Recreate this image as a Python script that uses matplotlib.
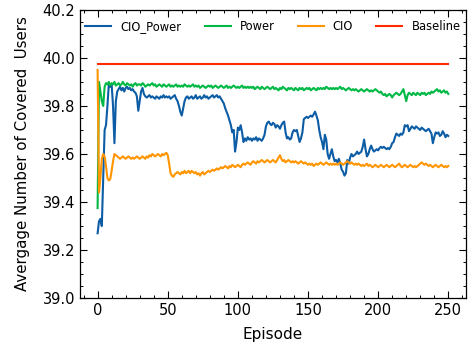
import matplotlib
matplotlib.use("Agg")
import matplotlib.pyplot as plt
from matplotlib.ticker import AutoMinorLocator

episodes = list(range(251))

cio_power = [
    39.27, 39.32, 39.33, 39.30, 39.50, 39.70, 39.72, 39.80, 39.89, 39.88,
    39.89, 39.80, 39.645, 39.82, 39.86, 39.87, 39.88, 39.865, 39.875, 39.86,
    39.875, 39.88, 39.87, 39.875, 39.865, 39.87, 39.86, 39.855, 39.84, 39.78,
    39.82, 39.86, 39.875, 39.85, 39.84, 39.835, 39.84, 39.845, 39.835, 39.84,
    39.835, 39.83, 39.84, 39.835, 39.83, 39.84, 39.835, 39.845, 39.835, 39.84,
    39.835, 39.84, 39.83, 39.835, 39.84, 39.845, 39.83, 39.82, 39.80, 39.775,
    39.76, 39.79, 39.82, 39.835, 39.84, 39.83, 39.835, 39.84, 39.83, 39.835,
    39.845, 39.83, 39.835, 39.84, 39.83, 39.835, 39.845, 39.835, 39.84, 39.83,
    39.835, 39.84, 39.845, 39.835, 39.84, 39.845, 39.835, 39.84, 39.83, 39.82,
    39.81, 39.79, 39.775, 39.76, 39.74, 39.72, 39.69, 39.70, 39.61, 39.65,
    39.71, 39.70, 39.72, 39.69, 39.65, 39.665, 39.655, 39.67, 39.66, 39.665,
    39.655, 39.665, 39.66, 39.67, 39.655, 39.665, 39.66, 39.655, 39.665, 39.68,
    39.715, 39.73, 39.735, 39.725, 39.72, 39.73, 39.725, 39.71, 39.72, 39.715,
    39.705, 39.72, 39.73, 39.735, 39.69, 39.665, 39.67, 39.66, 39.665, 39.69,
    39.70, 39.695, 39.70, 39.675, 39.65, 39.665, 39.69, 39.745, 39.75, 39.755,
    39.75, 39.755, 39.76, 39.755, 39.765, 39.776, 39.76, 39.74, 39.70, 39.67,
    39.65, 39.62, 39.68, 39.66, 39.60, 39.58, 39.60, 39.62, 39.59, 39.57,
    39.575, 39.565, 39.58, 39.56, 39.535, 39.526, 39.51, 39.52, 39.575, 39.56,
    39.585, 39.60, 39.59, 39.595, 39.60, 39.61, 39.60, 39.605, 39.61, 39.63,
    39.66, 39.62, 39.59, 39.60, 39.62, 39.635, 39.62, 39.61, 39.615, 39.62,
    39.615, 39.625, 39.63, 39.625, 39.63, 39.625, 39.62, 39.625, 39.62, 39.63,
    39.645, 39.65, 39.67, 39.685, 39.68, 39.675, 39.685, 39.68, 39.69, 39.72,
    39.715, 39.72, 39.695, 39.705, 39.715, 39.71, 39.705, 39.715, 39.71, 39.705,
    39.70, 39.71, 39.705, 39.70, 39.695, 39.70, 39.705, 39.695, 39.685, 39.645,
    39.67, 39.69, 39.685, 39.69, 39.675, 39.68, 39.695, 39.685, 39.67, 39.68,
    39.675,
]

power = [
    39.375, 39.90, 39.86, 39.82, 39.80, 39.88, 39.895, 39.89, 39.90, 39.885,
    39.895, 39.89, 39.90, 39.885, 39.89, 39.895, 39.885, 39.89, 39.90, 39.89,
    39.885, 39.895, 39.89, 39.885, 39.89, 39.88, 39.89, 39.895, 39.885, 39.89,
    39.89, 39.885, 39.895, 39.89, 39.88, 39.885, 39.89, 39.885, 39.89, 39.895,
    39.885, 39.89, 39.88, 39.885, 39.89, 39.885, 39.88, 39.89, 39.885, 39.88,
    39.885, 39.89, 39.88, 39.885, 39.88, 39.885, 39.89, 39.88, 39.885, 39.88,
    39.885, 39.88, 39.89, 39.885, 39.88, 39.885, 39.88, 39.885, 39.89, 39.88,
    39.885, 39.88, 39.885, 39.875, 39.88, 39.885, 39.88, 39.875, 39.88, 39.885,
    39.88, 39.885, 39.875, 39.88, 39.885, 39.88, 39.875, 39.88, 39.885, 39.88,
    39.875, 39.88, 39.885, 39.875, 39.88, 39.875, 39.88, 39.885, 39.88, 39.875,
    39.88, 39.875, 39.88, 39.885, 39.875, 39.88, 39.875, 39.88, 39.875, 39.88,
    39.875, 39.88, 39.87, 39.875, 39.88, 39.875, 39.87, 39.88, 39.875, 39.87,
    39.875, 39.88, 39.875, 39.87, 39.875, 39.88, 39.87, 39.875, 39.87, 39.865,
    39.875, 39.87, 39.88, 39.875, 39.87, 39.865, 39.875, 39.87, 39.875, 39.87,
    39.865, 39.875, 39.87, 39.865, 39.875, 39.87, 39.875, 39.865, 39.87, 39.875,
    39.87, 39.875, 39.865, 39.87, 39.875, 39.87, 39.865, 39.875, 39.87, 39.875,
    39.87, 39.875, 39.87, 39.88, 39.875, 39.87, 39.875, 39.87, 39.875, 39.87,
    39.875, 39.87, 39.875, 39.88, 39.87, 39.875, 39.87, 39.865, 39.87, 39.875,
    39.87, 39.865, 39.87, 39.865, 39.87, 39.865, 39.86, 39.865, 39.87, 39.865,
    39.86, 39.865, 39.87, 39.865, 39.86, 39.865, 39.86, 39.865, 39.87, 39.865,
    39.86, 39.855, 39.86, 39.85, 39.845, 39.85, 39.84, 39.845, 39.85, 39.845,
    39.835, 39.845, 39.85, 39.855, 39.85, 39.845, 39.85, 39.86, 39.87, 39.845,
    39.82, 39.845, 39.855, 39.85, 39.845, 39.855, 39.85, 39.845, 39.855, 39.85,
    39.845, 39.855, 39.85, 39.855, 39.845, 39.85, 39.855, 39.85, 39.86, 39.855,
    39.86, 39.865, 39.87, 39.86, 39.865, 39.855, 39.86, 39.865, 39.855, 39.86,
    39.85,
]

cio = [
    39.95, 39.44, 39.50, 39.58, 39.60, 39.59, 39.55, 39.50, 39.49, 39.495,
    39.53, 39.57, 39.60, 39.595, 39.59, 39.585, 39.58, 39.585, 39.59, 39.585,
    39.58, 39.585, 39.59, 39.585, 39.58, 39.585, 39.58, 39.585, 39.59, 39.585,
    39.58, 39.585, 39.59, 39.585, 39.58, 39.59, 39.585, 39.595, 39.59, 39.60,
    39.595, 39.59, 39.595, 39.60, 39.595, 39.59, 39.60, 39.595, 39.60, 39.605,
    39.595, 39.56, 39.52, 39.51, 39.505, 39.515, 39.52, 39.525, 39.52, 39.515,
    39.525, 39.52, 39.53, 39.52, 39.525, 39.53, 39.52, 39.53, 39.525, 39.52,
    39.525, 39.515, 39.52, 39.51, 39.52, 39.525, 39.515, 39.52, 39.525, 39.53,
    39.525, 39.53, 39.535, 39.53, 39.535, 39.54, 39.535, 39.54, 39.545, 39.54,
    39.545, 39.55, 39.545, 39.54, 39.55, 39.545, 39.555, 39.55, 39.545, 39.55,
    39.555, 39.55, 39.545, 39.555, 39.56, 39.555, 39.56, 39.565, 39.56, 39.555,
    39.565, 39.57, 39.565, 39.56, 39.57, 39.565, 39.57, 39.575, 39.57, 39.565,
    39.57, 39.575, 39.57, 39.565, 39.57, 39.575, 39.57, 39.565, 39.575, 39.585,
    39.595, 39.58, 39.57, 39.575, 39.565, 39.57, 39.575, 39.57, 39.565, 39.57,
    39.565, 39.57, 39.565, 39.56, 39.565, 39.57, 39.565, 39.56, 39.565, 39.56,
    39.555, 39.56, 39.555, 39.56, 39.55, 39.555, 39.56, 39.555, 39.56, 39.565,
    39.56, 39.555, 39.56, 39.565, 39.56, 39.555, 39.56, 39.555, 39.56, 39.555,
    39.56, 39.555, 39.56, 39.565, 39.56, 39.555, 39.56, 39.565, 39.57, 39.565,
    39.56, 39.565, 39.56, 39.555, 39.56, 39.555, 39.56, 39.555, 39.55, 39.555,
    39.55, 39.555, 39.56, 39.55, 39.555, 39.55, 39.545, 39.55, 39.555, 39.55,
    39.545, 39.55, 39.555, 39.55, 39.545, 39.55, 39.555, 39.55, 39.545, 39.55,
    39.555, 39.55, 39.545, 39.55, 39.555, 39.56, 39.55, 39.545, 39.55, 39.555,
    39.55, 39.545, 39.55, 39.555, 39.55, 39.545, 39.55, 39.545, 39.55, 39.555,
    39.56, 39.565, 39.56, 39.555, 39.56, 39.555, 39.55, 39.555, 39.55, 39.545,
    39.55, 39.555, 39.55, 39.545, 39.55, 39.555, 39.55, 39.545, 39.55, 39.545,
    39.55,
]

baseline_value = 39.975
baseline = [baseline_value] * len(episodes)

fig = plt.figure(figsize=(4.71, 3.52), dpi=100)
ax = fig.add_axes([0.170, 0.153, 0.819, 0.819])

lw = 1.5
ax.plot(episodes, cio_power, color="#0C5DA5", lw=lw, label="CIO_Power")
ax.plot(episodes, power, color="#00B945", lw=lw, label="Power")
ax.plot(episodes, cio, color="#FF9500", lw=lw, label="CIO")
ax.plot(episodes, baseline, color="#FF2C00", lw=lw, label="Baseline")

ax.set_ylim(39.0, 40.2)
ax.set_yticks([39.0, 39.2, 39.4, 39.6, 39.8, 40.0, 40.2])
ax.set_xticks([0, 50, 100, 150, 200, 250])
ax.xaxis.set_minor_locator(AutoMinorLocator(5))
ax.yaxis.set_minor_locator(AutoMinorLocator(4))
ax.tick_params(which="both", direction="in", top=True, right=True, labelsize=10.5)
ax.tick_params(which="major", length=5, width=0.8)
ax.tick_params(which="minor", length=2.5, width=0.7)
for s in ax.spines.values():
    s.set_linewidth(0.9)

ax.set_xlabel("Episode", fontsize=11, labelpad=6.5)
ax.set_ylabel("Avergage Number of Covered  Users", fontsize=10.8, labelpad=9)
ax.legend(loc="upper center", ncol=4, frameon=False, fontsize=8.3,
          handlelength=2.25)

fig.savefig("out.png", dpi=100)
